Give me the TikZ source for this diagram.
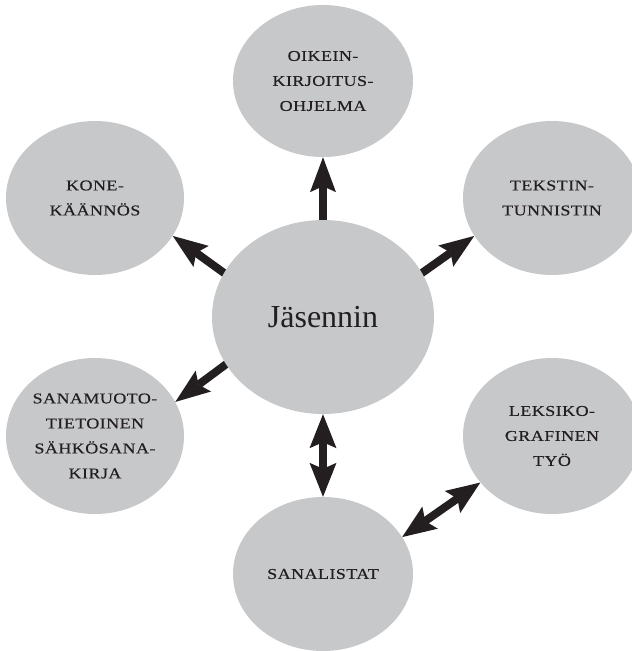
\documentclass[tikz,border=0pt]{standalone}
\usepackage{fontspec}
\setmainfont{Liberation Serif}
\newfontfamily\scfont[FakeStretch=1.2,LetterSpace=3,FakeBold=0.4]{Liberation Serif}
\usetikzlibrary{shapes.geometric,arrows.meta}
\pgfdeclarelayer{paper}
\pgfdeclarelayer{bg}
\pgfsetlayers{paper,bg,main}
\definecolor{bubble}{RGB}{199,200,202}
\definecolor{ink}{RGB}{35,31,32}
\tikzset{
  bub/.style={ellipse,fill=bubble,inner sep=0pt,minimum width=178pt,minimum height=154pt,
    align=center,text=ink,font=\scfont\fontsize{15}{25}\selectfont},
  arr/.style={line width=8pt,draw=ink,
    -{Stealth[length=35pt,width=26pt,inset=6pt,line width=0pt]}},
  dblarr/.style={line width=8pt,draw=ink,
    {Stealth[length=34pt,width=27pt,inset=6pt,line width=0pt]}-{Stealth[length=34pt,width=27pt,inset=6pt,line width=0pt]}}
}
\begin{document}
\begin{tikzpicture}[x=1pt,y=-1pt]
\useasboundingbox (0,0) rectangle (632,651);
\begin{pgfonlayer}{paper}
\fill[white] (0,0) rectangle (632,651);
\end{pgfonlayer}
\clip (0,0) rectangle (632,651);
\node[ellipse,fill=bubble,inner sep=0pt,minimum width=222pt,minimum height=194pt,text=ink,
  font=\fontsize{32}{38}\selectfont] (main) at (323,317) {Jäsennin};
\node[bub,minimum width=180pt,minimum height=152pt] (oik) at (323,81) {OIKEIN-\\KIRJOITUS-\\OHJELMA};
\node[bub] (kone) at (95,198) {KONE-\\KÄÄNNÖS};
\node[bub] (tek) at (552,198) {TEKSTIN-\\TUNNISTIN};
\node[bub,minimum height=156pt] (sana) at (95,436) {SANAMUOTO-\\TIETOINEN\\SÄHKÖSANA-\\KIRJA};
\node[bub,minimum height=156pt] (leks) at (552,436) {LEKSIKO-\\GRAFINEN\\TYÖ};
\node[bub,minimum width=180pt] (sanal) at (323,574) {SANALISTAT};
\begin{pgfonlayer}{bg}
\draw[arr,shorten <=-6pt] (main.90) -- (oik.-90);
\draw[arr,shorten <=-6pt] (main.156) -- (kone.-26);
\draw[arr,shorten <=-6pt] (main.24) -- (tek.206);
\draw[arr,shorten <=-6pt] (main.206.6) -- (sana.23.7);
\draw[dblarr] (main.-90) -- (sanal.90);
\draw[dblarr] (sanal.25) -- (leks.213);
\end{pgfonlayer}
\end{tikzpicture}
\end{document}
